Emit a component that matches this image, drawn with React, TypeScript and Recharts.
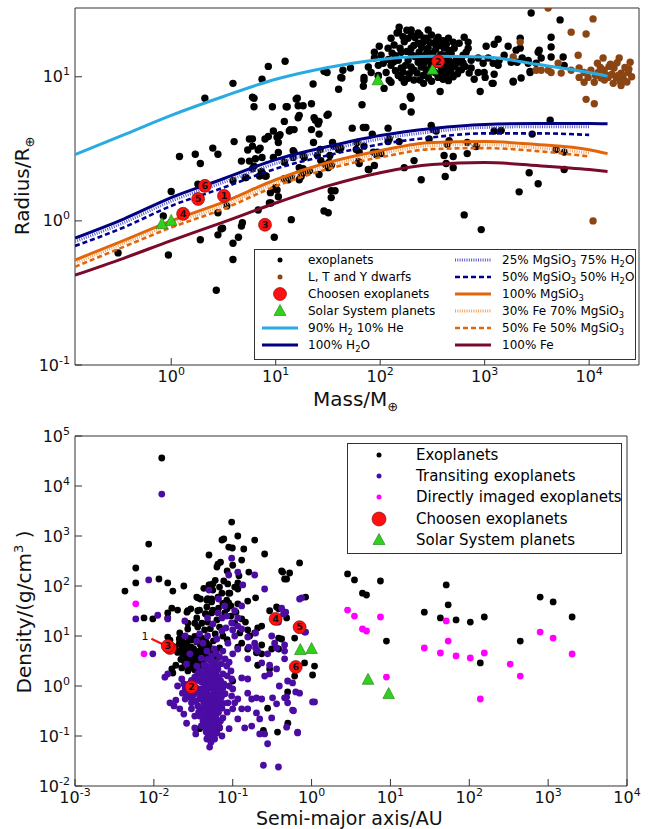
import React from "react";
import { ReferenceDot, ReferenceLine, Scatter, ScatterChart, XAxis, YAxis } from "recharts";

const FONT = "'DejaVu Sans', 'Bitstream Vera Sans', sans-serif";

// ---------- top panel: mass (M_earth) vs radius (R_earth) ----------
const exoplanets: [number, number][] = [
  [8.5, 11.8], [3.9, 9.0], [7.4, 9.6], [12.3, 12.8], [2.1, 7.1], [6.0, 7.2], [6.2, 7.1], [6.2, 6.2], [9.3, 6.2],
  [12.9, 6.2], [22.8, 8.9], [15.7, 7.0], [18.3, 6.3], [31, 10.7], [22, 6.5], [16.8, 5.4], [24, 5.0], [31, 5.4],
  [26, 4.9], [9.5, 4.2], [5.6, 3.7], [6.0, 3.7], [8.5, 3.85], [7.9, 3.7], [6.0, 3.3], [5.4, 3.1], [7.1, 3.2],
  [4.0, 3.55], [2.5, 3.2], [1.2, 2.8], [1.7, 2.9], [2.8, 2.9], [1.9, 2.5], [5.6, 2.6], [6.4, 2.7], [4.7, 2.6],
  [9.5, 2.75], [7.3, 2.2], [6.0, 2.3], [5.1, 2.0], [7.0, 2.05], [7.9, 2.05], [3.9, 1.9], [1.0, 1.6], [1.8, 1.8],
  [3.4, 1.27], [8.7, 1.33], [6.8, 1.19], [0.84, 1.08], [2.8, 1.14], [3.0, 0.88], [4.7, 0.92], [1.9, 0.74],
  [2.8, 0.8], [4.4, 0.77], [3.9, 0.7], [0.31, 0.6], [0.94, 0.58], [3.9, 0.54], [2.7, 0.33], [9.7, 0.77],
  [12.1, 4.9], [11, 3.97], [13.8, 4.3], [15, 4.3], [22, 4.3], [26, 4.0], [10.3, 3.8], [10.6, 3.5], [15, 3.0],
  [14.7, 2.75], [18.3, 2.85], [25, 2.85], [7.4, 2.75], [6.8, 3.1], [5.2, 2.0], [6.2, 2.4], [8.1, 2.05], [9.9, 1.7],
  [12.1, 2.55], [8.9, 1.57], [10.3, 1.64], [30, 2.46], [26, 2.1], [32.5, 2.55], [16.8, 1.93], [13.2, 1.93],
  [10.6, 1.47], [4.8, 0.97], [14.1, 1.02], [3.1, 0.89], [29, 1.17], [31.8, 1.14], [34, 1.45], [34, 1.62],
  [37, 1.62], [21, 2.23], [9, 1.33], [18.3, 2.16], [17.5, 2.03], [12.1, 1.96], [14.1, 2.0], [27, 2.62],
  [31.8, 2.34], [34, 2.42], [33, 2.84], [16.8, 2.34], [14.7, 3.07], [18.7, 2.75], [10.6, 2.98], [26.7, 3.13],
  [43, 9.8], [44, 11.1], [52, 11.5], [40, 8.2], [69, 8.6], [98, 16.3], [109, 8.3], [67, 6.4], [194, 7.3],
  [198, 7.1], [166, 6.2], [198, 5.7], [375, 7.9], [637, 18.8], [12.6, 6.2], [16.1, 7.1], [16.4, 6.3], [31.8, 5.5],
  [23.3, 5.2], [25.5, 4.7], [16.4, 5.2], [13.5, 4.2], [10.8, 3.9], [54, 4.4], [69, 4.45], [73, 4.45], [119, 4.4],
  [119, 3.55], [122, 3.7], [60, 3.5], [70, 3.3], [84, 4.0], [23, 3.5], [35, 3.5], [36, 3.3], [42, 3.2], [63, 3.0],
  [94, 3.0], [102, 2.93], [62, 2.58], [88, 2.42], [211, 2.62], [321, 4.3], [438, 3.4], [457, 3.6], [409, 2.84],
  [500, 2.34], [170, 2.34], [77, 2.27], [18.3, 2.3], [40, 3.13], [59, 3.13], [308, 4.6], [344, 4.2], [294, 3.7],
  [152, 3.55], [92, 2.88], [86, 3.0], [247, 1.93], [419, 2.03], [500, 2.8], [428, 2.5], [681, 2.93], [829, 3.28],
  [1233, 4.2], [1439, 4.24], [2850, 4.0], [4236, 5.0], [4831, 3.13], [5768, 3.0], [5768, 2.27], [2667, 2.16],
  [3251, 1.81], [2138, 1.59], [637, 1.1], [927, 0.87], [63, 2.5], [78, 2.27], [681, 3.5], [2786, 27.7], [5272, 24.8],
  [1033, 16.3], [1233, 16.8], [1346, 18.2], [2188, 18.5], [4325, 18.8], [4325, 16.1], [2188, 15.8], [1679, 16.3],
  [2000, 15.3], [3251, 14.8], [3327, 15.3], [3475, 13.5], [4325, 13.7], [5636, 13.7], [2286, 13.5], [2609, 13.0],
  [2047, 12.6], [2609, 12.4], [3111, 12.4], [5768, 12.0], [2723, 10.7], [2234, 9.8], [1875, 9.2], [1233, 10.4],
  [1011, 9.9], [1206, 9.0], [906, 7.9], [794, 9.6], [867, 10.7], [1346, 12.0], [1875, 9.3], [2723, 10.9],
  [152, 22.1], [145, 20.1], [288, 21.1], [359, 18.8], [231, 20.1], [185, 18.5], [329, 17.1], [500, 17.4],
  [102, 14.1], [88, 13.5], [77, 11.7], [82, 10.7], [70, 9.9], [96, 10.2], [114, 10.7], [122, 9.45], [149, 10.2],
  [170, 9.16], [185, 9.77], [211, 11.1], [258, 10.2], [294, 10.7], [359, 9.9], [409, 10.5], [500, 11.7],
  [557, 12.6], [622, 14.1], [695, 15.8], [119, 15.8], [136, 16.6], [159, 14.8], [198, 15.8], [236, 14.8],
  [288, 15.8], [409, 15.8], [478, 14.5], [149, 13.0], [185, 13.0], [231, 12.6], [288, 13.0], [359, 13.5],
  [448, 13.0], [127, 12.0], [159, 11.5], [198, 11.7], [247, 11.7], [308, 12.0], [383, 11.7], [107, 12.4],
  [96, 12.0], [88, 14.8], [127, 18.5], [198, 21.1], [231, 17.1], [264, 18.5], [511, 15.8], [570, 17.1],
  [695, 17.4], [665, 14.8], [533, 13.0], [622, 12.4], [743, 13.0], [743, 11.5], [867, 13.5], [968, 12.4],
  [1080, 13.5], [1206, 12.4], [711, 10.6], [570, 11.1], [1377, 13.0], [989, 10.7], [1537, 14.1], [1794, 12.6],
  [96, 10.1], [29, 10.9], [42, 9.9], [70, 9.45], [127, 9.16], [428, 10.1], [1180, 9.0],
  [170, 17.5], [210, 16.5], [250, 16], [270, 14], [320, 14.5], [340, 15.5], [390, 16.5], [420, 14], [460, 15.2],
  [140, 14], [175, 12], [215, 13.8], [265, 12.5], [330, 12.8], [395, 12.4], [440, 11.2], [520, 12], [600, 13],
  [650, 11.8], [140, 11], [225, 10.6], [275, 11.2], [330, 10.8], [390, 11], [470, 10.8], [160, 9.8], [240, 9.5],
  [310, 9.3], [150, 20.5], [165, 19], [180, 21], [200, 19.5], [215, 18.7], [240, 19.5], [260, 17.5], [280, 18.5],
  [300, 17.2], [310, 19.5], [345, 17.8], [370, 16.5], [400, 17.8], [430, 16.8], [450, 18.5], [130, 14.6],
  [155, 15.8], [180, 15], [200, 14.2], [230, 14], [260, 13.3], [280, 14.8], [300, 13.2], [350, 12.2], [380, 14.2],
  [410, 12.8], [430, 12.3], [460, 12.8], [480, 12], [120, 13.2], [135, 12.7], [165, 10.8], [190, 10.5], [210, 9.5],
  [260, 9], [290, 9.8], [340, 10.6], [370, 10.3], [400, 9.6], [450, 9.4], [500, 10], [550, 10.5], [600, 11.2],
];

const ltyDwarfs: [number, number][] = [
  [4050, 30], [10900, 25.2], [6730, 20.4], [9350, 19.8], [2188, 17.4], [1875, 13.7], [7850, 14.1], [13600, 13.5],
  [19400, 13.5], [24700, 12.6], [3475, 11.1], [4325, 10.7], [5050, 12.4], [5400, 10.6], [6730, 11.1], [8020, 11.5],
  [8950, 10.7], [10400, 11.1], [8020, 9.9], [8950, 9.16], [9780, 9.9], [12200, 10.7], [13900, 11.1], [15200, 9.9],
  [17300, 11.5], [18100, 9.9], [20200, 10.6], [21600, 9.45], [23600, 10.7], [17000, 9.0], [20200, 8.7],
  [13000, 9.8], [11200, 9.16], [9350, 6.97], [11200, 6.5], [3111, 11.1], [4055, 11.1], [10900, 1.0],
  [16000, 12.2], [22000, 11.6], [14500, 10.3], [19000, 10.2], [25500, 10.0], [12000, 12.4],
  [11500, 10.2], [14000, 9.5], [16500, 10.4], [18500, 12.5], [21000, 10.1], [23000, 9.2], [15500, 11.8],
  [12800, 11.6], [24000, 11.3], [19800, 9.3],
];

const chosenTop: [number, number, number][] = [
  [3.2, 1.49, 1], [359, 12.8, 2], [7.9, 0.94, 3], [1.3, 1.12, 4], [1.81, 1.42, 5], [2.1, 1.75, 6],
];
const solarTop: [number, number][] = [[0.815, 0.95], [1, 1], [95, 9.45], [318, 11.2]];

// model mass-radius relations, read at these masses
const modelMass = [0.12, 0.35, 1, 3.16, 10, 31.6, 100, 316, 1000, 3160, 10000, 15000];
const rH2He = [2.88, 3.95, 5.4, 7.3, 9.6, 11.6, 13.2, 13.9, 13.7, 12.2, 10.7, 10.1];
const rH2O = [0.76, 1.03, 1.45, 1.96, 2.66, 3.28, 3.91, 4.38, 4.67, 4.74, 4.74, 4.72];
const rMg25 = [0.72, 0.97, 1.37, 1.85, 2.5, 3.1, 3.7, 4.15, 4.45, 4.5, 4.5];
const rMg50 = [0.67, 0.9, 1.27, 1.7, 2.3, 2.85, 3.4, 3.8, 4.05, 4.05, 3.95];
const rMgSiO3 = [0.535, 0.73, 1.0, 1.35, 1.93, 2.54, 3.07, 3.5, 3.55, 3.39, 3.12, 2.93];
const rFe30 = [0.51, 0.7, 0.95, 1.28, 1.83, 2.41, 2.92, 3.33, 3.38, 3.22, 2.96];
const rFe50 = [0.48, 0.66, 0.9, 1.21, 1.74, 2.29, 2.76, 3.15, 3.2, 3.05, 2.8];
const rFe = [0.42, 0.55, 0.73, 0.98, 1.33, 1.75, 2.16, 2.46, 2.54, 2.42, 2.27, 2.2];

// ---------- bottom panel: semi-major axis (AU) vs density (g/cm3) ----------
const exoDensity: [number, number][] = [
  [2.86, 174], [3.5, 132], [4.42, 72], [4.97, 66], [7.47, 126], [8.9, 7.9], [26.9, 30], [43, 23], [51, 105],
  [54, 42], [68, 21], [103, 19], [155, 24], [138, 2.9], [443, 7.9], [792, 60], [1157, 48], [2014, 24],
  [0.0126, 36300], [0.0086, 690], [0.0059, 229], [0.0059, 115], [0.0043, 79], [0.0116, 138], [0.015, 115],
  [0.0174, 79], [0.024, 100], [0.0075, 23], [0.0097, 22], [0.0169, 36], [0.02, 33], [0.0269, 32], [0.0294, 35],
  [0.015, 23], [0.015, 9.5], [0.021, 8.7], [0.019, 2.6], [0.0169, 2.2], [0.0269, 13.8], [0.036, 58], [0.048, 56],
  [0.054, 48], [0.05, 417], [0.065, 275], [0.063, 240], [0.077, 870], [0.073, 832], [0.089, 600], [0.099, 575],
  [0.116, 1000], [0.097, 1900], [0.138, 550], [0.19, 830], [0.254, 437], [0.05, 105], [0.056, 110], [0.077, 126],
  [0.0865, 110], [0.106, 95], [0.116, 87], [0.089, 72], [0.155, 50], [0.195, 58], [0.116, 44], [0.089, 46],
  [0.066, 36], [0.054, 55], [0.047, 52], [0.039, 55], [0.036, 32], [0.0455, 27.5], [0.054, 29], [0.033, 18],
  [0.0405, 18], [0.417, 200], [0.455, 138], [0.705, 290], [0.84, 60], [0.36, 38], [0.294, 32], [0.483, 23],
  [0.233, 15.8], [0.382, 9.1], [0.19, 11.5], [0.164, 10], [0.417, 8.7], [0.382, 5.5], [0.312, 5.5], [0.294, 2.2],
  [0.2, 4.6], [0.233, 4.4], [0.155, 5.5], [0.13, 7.2], [0.497, 0.76], [0.61, 1.58], [1.09, 2.5], [1.03, 1.66],
  [0.815, 2.9], [0.37, 0.12], [0.5, 0.18], [0.245, 0.13], [0.277, 0.36], [0.1, 1.26], [0.068, 0.145],
  [0.054, 0.14], [0.038, 0.14], [0.0213, 5.0], [0.233, 6.6], [0.207, 2.6], [0.207, 14.5], [0.382, 35],
  [0.116, 115], [0.155, 13.2], [0.61, 9.1], [0.527, 182], [0.43, 190], [0.483, 138],
  [0.0226, 6.0], [0.0263, 7.2], [0.0303, 8.3], [0.035, 7.6], [0.0405, 9.1], [0.0233, 4.2], [0.0286, 4.6],
  [0.035, 4.8], [0.0418, 5.75], [0.0263, 3.0], [0.033, 3.3], [0.0405, 3.6], [0.0303, 2.3], [0.0382, 2.4],
  [0.0226, 2.3], [0.0174, 1.82], [0.047, 7.2], [0.0542, 5.25], [0.044, 13.2], [0.036, 15.1], [0.048, 19],
  [0.063, 21], [0.068, 15.1], [0.038, 33], [0.047, 38], [0.056, 33], [0.079, 29], [0.084, 52], [0.092, 72],
  [0.073, 72], [0.056, 83], [0.051, 105], [0.035, 60], [0.0263, 30], [0.015, 29], [0.016, 8.3], [0.0185, 6.0],
  [0.0213, 11.5], [0.106, 18.2], [0.123, 11.5], [0.116, 6.0], [0.068, 5.75], [0.063, 3.6], [0.056, 1.82],
  [0.025, 5.2], [0.03, 6.0], [0.032, 4.0], [0.037, 4.3], [0.028, 3.6], [0.025, 2.7], [0.035, 2.8], [0.044, 4.6],
  [0.042, 3.1], [0.029, 5.3], [0.022, 3.4], [0.039, 6.6], [0.033, 9.8], [0.045, 8.5], [0.05, 6.5], [0.057, 8],
  [0.06, 11], [0.052, 14], [0.075, 10], [0.085, 8.5], [0.095, 25], [0.085, 35], [0.11, 30], [0.13, 22],
  [0.145, 19], [0.095, 40], [0.075, 45], [0.065, 60], [0.068, 95], [0.043, 90], [0.06, 130], [0.1, 260],
  [0.085, 200], [0.07, 300], [0.13, 330], [0.12, 160], [0.16, 190], [0.035, 23], [0.027, 18], [0.045, 28],
  [0.027, 4.0], [0.031, 3.5], [0.024, 3.2], [0.028, 2.5], [0.031, 2.7], [0.034, 3.9], [0.038, 5.0], [0.041, 7.0],
  [0.036, 9.5], [0.028, 9.0], [0.023, 8.0], [0.021, 7.0], [0.02, 4.7], [0.025, 6.5], [0.032, 5.5], [0.044, 6.0],
  [0.046, 4.0], [0.039, 3.0], [0.033, 2.1], [0.027, 2.0],
];

const transiting: [number, number][] = [
  [0.0126, 6900], [0.0086, 132], [0.0059, 22], [0.0097, 4.4], [0.0112, 26], [0.015, 22], [0.0247, 20],
  [0.015, 1.74], [0.0138, 1.5], [0.016, 0.46], [0.019, 0.52], [0.024, 0.275], [0.026, 0.18], [0.033, 0.145],
  [0.034, 0.11], [0.051, 0.06], [0.05, 83], [0.066, 55], [0.089, 166], [0.097, 360], [0.116, 190], [0.134, 105],
  [0.19, 166], [0.254, 87], [0.417, 36], [0.705, 55], [0.815, 12], [0.44, 27.5], [0.455, 6.6], [0.36, 5.75],
  [0.277, 4.4], [0.233, 2.9], [0.207, 5.0], [0.155, 3.5], [0.155, 9.5], [0.195, 11.5], [0.195, 5.75],
  [0.294, 2.6], [0.294, 1.74], [0.39, 1.0], [0.455, 0.58], [0.36, 0.44], [0.312, 0.23], [0.254, 0.11],
  [0.277, 0.07], [0.245, 0.026], [0.38, 0.024], [0.59, 0.32], [0.665, 0.115], [0.63, 0.76], [0.705, 0.72],
  [1.03, 0.48], [0.68, 2.5], [0.47, 30], [0.38, 19], [0.312, 10], [0.16, 6.0], [0.2, 0.58], [0.174, 0.55],
  [0.155, 0.72], [0.116, 0.55], [0.1, 0.87], [0.087, 0.46], [0.1, 0.35], [0.116, 0.22], [0.09, 0.14],
  [0.142, 0.145], [0.174, 0.158], [0.22, 0.11], [0.073, 0.1], [0.059, 0.087], [0.063, 0.115], [0.075, 0.91],
  [0.075, 1.74], [0.065, 2.2], [0.084, 2.5], [0.1, 4.4], [0.116, 5.5], [0.087, 7.2], [0.106, 10], [0.13, 13.8],
  [0.097, 18.2], [0.116, 23], [0.106, 32], [0.079, 40], [0.073, 23], [0.073, 12.6], [0.056, 17.4], [0.063, 8.7],
  [0.048, 10], [0.042, 7.2], [0.038, 11], [0.047, 5.0], [0.054, 4.0], [0.04, 3.6], [0.035, 2.5], [0.047, 2.5],
  [0.042, 1.58], [0.054, 1.45], [0.031, 1.15], [0.027, 0.87], [0.023, 0.72], [0.025, 0.55], [0.03, 0.46],
  [0.038, 0.55], [0.047, 0.72], [0.051, 0.46], [0.044, 0.29], [0.054, 0.25], [0.038, 0.25], [0.047, 0.18],
  [0.056, 0.17], [0.048, 0.126], [0.054, 0.091], [0.047, 0.087], [0.063, 0.72], [0.059, 0.46], [0.063, 0.29],
  [0.073, 0.36], [0.075, 0.23], [0.04, 0.87], [0.048, 1.1], [0.056, 1.1], [0.036, 1.74], [0.0226, 1.38],
  [0.02, 1.0], [0.018, 0.4], [0.0213, 0.35], [0.03, 0.35], [0.0286, 4.4], [0.026, 2.75], [0.016, 6.3],
  [0.025, 10], [0.035, 7.9], [0.048, 23], [0.065, 29], [0.084, 25], [0.082, 14.5], [0.1, 13.2], [0.116, 15.8],
  [0.13, 40], [0.19, 7.2], [0.34, 7.2], [0.455, 5.0], [0.497, 1.26], [0.455, 3.5], [0.36, 2.2], [0.574, 1.15],
  [0.497, 0.46], [0.32, 0.58], [0.233, 0.55], [0.254, 1.58], [0.13, 1.45], [0.155, 1.38], [0.097, 1.38],
  [0.077, 1.1], [0.106, 0.46], [0.13, 0.35], [0.155, 0.35], [0.2, 0.29], [0.22, 0.22], [0.097, 0.63],
  [0.073, 0.69], [0.065, 1.1], [0.75, 58], [0.84, 12], [1.09, 0.48], [0.665, 0.12], [0.574, 0.33], [0.483, 0.6],
  [0.483, 0.15],
  [0.045, 0.35], [0.05, 0.3], [0.055, 0.35], [0.06, 0.25], [0.045, 0.22], [0.05, 0.2], [0.055, 0.22],
  [0.06, 0.18], [0.045, 0.15], [0.05, 0.14], [0.052, 0.11], [0.058, 0.13], [0.044, 0.5], [0.05, 0.55],
  [0.056, 0.6], [0.06, 0.4], [0.046, 0.8], [0.052, 0.9], [0.058, 0.8], [0.044, 1.3], [0.05, 1.2], [0.058, 1.6],
  [0.062, 1.9], [0.045, 2.0], [0.05, 1.8], [0.055, 2.4], [0.06, 3.0], [0.04, 1.2], [0.035, 0.9], [0.033, 0.7],
  [0.03, 0.8], [0.027, 0.6], [0.032, 1.0], [0.036, 0.4], [0.041, 0.35], [0.042, 0.2], [0.04, 0.16],
  [0.053, 0.075], [0.049, 0.1], [0.062, 0.6], [0.068, 0.5], [0.066, 0.3], [0.07, 0.2], [0.068, 0.15],
  [0.065, 1.5], [0.07, 1.3], [0.072, 2.8], [0.058, 5.5], [0.062, 4.5], [0.068, 3.8], [0.075, 5], [0.08, 3.5],
  [0.09, 3.0], [0.095, 2.0], [0.085, 1.6], [0.09, 1.0], [0.08, 0.7], [0.085, 0.3],
  [0.042, 0.6], [0.047, 0.6], [0.053, 0.65], [0.048, 0.4], [0.057, 0.45], [0.043, 0.45], [0.039, 0.7],
  [0.044, 0.95], [0.049, 1.5], [0.054, 1.0], [0.059, 1.2], [0.063, 1.0], [0.047, 0.28], [0.052, 0.26],
  [0.057, 0.3], [0.061, 0.32], [0.043, 0.32], [0.046, 0.12], [0.051, 0.17], [0.056, 0.14], [0.058, 0.1],
  [0.062, 0.22], [0.067, 0.4], [0.064, 0.8], [0.041, 1.6], [0.046, 1.7], [0.038, 2.0], [0.043, 2.6],
  [0.052, 2.2], [0.057, 2.0], [0.053, 3.2], [0.048, 3.4], [0.064, 2.6], [0.07, 1.0], [0.072, 0.6], [0.076, 0.45],
  [0.036, 1.3], [0.033, 1.5], [0.03, 1.3], [0.028, 1.1], [0.025, 0.9], [0.024, 1.1], [0.026, 0.75], [0.029, 0.65],
  [0.031, 0.55], [0.034, 0.5], [0.037, 0.3], [0.033, 0.25],
];

const directlyImaged: [number, number][] = [
  [0.0059, 44], [0.0075, 4.4], [2.86, 33], [3.5, 25], [4.42, 13.8], [4.97, 12.6], [7.47, 24], [8.9, 1.51],
  [26.9, 5.75], [43, 4.57], [51, 20], [54, 7.9], [68, 4.0], [103, 3.63], [155, 4.57], [138, 0.55], [330, 2.75],
  [443, 1.58], [792, 12], [1157, 9.1], [2014, 4.37],
];

// planet 1 sits under planet 3 here, so only its arrow label shows
const chosenBottom: [number, number, number][] = [
  [0.016, 5.75, 1], [0.03, 0.95, 2], [0.015, 6.3, 3], [0.35, 22, 4], [0.705, 15, 5], [0.63, 2.4, 6],
];
const solarBottom: [number, number][] = [[0.72, 5.24], [1.0, 5.51], [5.2, 1.33], [9.5, 0.69]];

const massTicks = [1, 10, 100, 1000, 10000];
const radiusTicks = [0.1, 1, 10];
const axisTicks = [0.001, 0.01, 0.1, 1, 10, 100, 1000, 10000];
const densityTicks = [0.01, 0.1, 1, 10, 100, 1000, 10000, 100000];

const pts = (a: number[][]) => a.map(([x, y, id]) => ({ x, y, id }));
const curve = (r: number[]) => r.map((y, i) => ({ x: modelMass[i], y }));

function minorTicks(lo: number, hi: number) {
  const out: number[] = [];
  for (let e = Math.floor(Math.log10(lo)); e <= Math.ceil(Math.log10(hi)); e++) {
    for (let m = 2; m <= 9; m++) {
      const v = m * Math.pow(10, e);
      if (v > lo && v < hi) out.push(v);
    }
  }
  return out;
}

// "10" and its exponent are drawn as two texts (DejaVu advance widths)
const BASE_W = 2 * 0.636 * 16;
const expText = (v: number) => String(Math.round(Math.log10(v)));
const expWidth = (s: string) => s.split("").reduce((w, c) => w + (c === "-" ? 0.361 : 0.636), 0) * 11;
const txt = { fontFamily: FONT, fill: "#111" };

const xLabel = (dy: number) => (p: any) => {
  const e = expText(p.payload.value);
  const x0 = p.x - (BASE_W + expWidth(e)) / 2;
  const y = p.y + dy;
  return (
    <g>
      <text x={x0} y={y} fontSize={16} {...txt}>10</text>
      <text x={x0 + BASE_W} y={y - 7} fontSize={11} {...txt}>{e}</text>
    </g>
  );
};

function YLabel(p: any) {
  const e = expText(p.payload.value);
  const xe = p.x - 12;
  const y = p.y + 5.5;
  return (
    <g>
      <text x={xe - expWidth(e)} y={y} textAnchor="end" fontSize={16} {...txt}>10</text>
      <text x={xe} y={y - 7} textAnchor="end" fontSize={11} {...txt}>{e}</text>
    </g>
  );
}

// all axes are mirrored so ticks point inwards (matplotlib classic style)
function frame(xd: [number, number], yd: [number, number], xMajor: number[], yMajor: number[]) {
  const line = { stroke: "#333", strokeWidth: 1 };
  const base = { type: "number" as const, scale: "log" as const, allowDataOverflow: true, interval: 0 as const, mirror: true, tickMargin: 0 };
  return [
    <XAxis key="b" xAxisId="b" dataKey="x" domain={xd} ticks={xMajor} height={0.01} tickSize={7} tick={xLabel(24)} axisLine={line} tickLine={line} {...base} />,
    <XAxis key="bm" xAxisId="bm" domain={xd} ticks={minorTicks(xd[0], xd[1])} height={0.01} tickSize={3.5} tick={false} axisLine={false} tickLine={line} {...base} />,
    <XAxis key="t" xAxisId="t" orientation="top" domain={xd} ticks={xMajor} height={0.01} tickSize={7} tick={false} axisLine={line} tickLine={line} {...base} />,
    <XAxis key="tm" xAxisId="tm" orientation="top" domain={xd} ticks={minorTicks(xd[0], xd[1])} height={0.01} tickSize={3.5} tick={false} axisLine={false} tickLine={line} {...base} />,
    <YAxis key="l" yAxisId="l" dataKey="y" domain={yd} ticks={yMajor} width={0.01} tickSize={7} tick={YLabel} axisLine={line} tickLine={line} {...base} />,
    <YAxis key="lm" yAxisId="lm" domain={yd} ticks={minorTicks(yd[0], yd[1])} width={0.01} tickSize={3.5} tick={false} axisLine={false} tickLine={line} {...base} />,
    <YAxis key="r" yAxisId="r" orientation="right" domain={yd} ticks={yMajor} width={0.01} tickSize={7} tick={false} axisLine={line} tickLine={line} {...base} />,
    <YAxis key="rm" yAxisId="rm" orientation="right" domain={yd} ticks={minorTicks(yd[0], yd[1])} width={0.01} tickSize={3.5} tick={false} axisLine={false} tickLine={line} {...base} />,
  ];
}

const dot = (r: number, fill: string) => (p: any) => <circle cx={p.cx} cy={p.cy} r={r} fill={fill} />;
const tri = (p: any) => (
  <polygon
    points={`${p.cx},${p.cy - 6.5} ${p.cx - 5.8},${p.cy + 4.5} ${p.cx + 5.8},${p.cy + 4.5}`}
    fill="#2fd11c"
    stroke="#1d7a10"
    strokeWidth={0.6}
  />
);
const numbered = (hidden: number[]) => (p: any) => (
  <g>
    <circle cx={p.cx} cy={p.cy} r={6.5} fill="#ff1010" stroke="#7a0000" strokeWidth={0.6} />
    {!hidden.includes(p.payload.id) && (
      <text x={p.cx} y={p.cy + 3.3} textAnchor="middle" fontSize={9.5} fontWeight="bold" fontFamily={FONT} fill="#111">
        {p.payload.id}
      </text>
    )}
  </g>
);
const noShape = () => <g />;

const ids = { xAxisId: "b", yAxisId: "l", isAnimationActive: false };

function model(r: number[], stroke: string, width: number, dash?: string) {
  return (
    <Scatter
      key={stroke + (dash || "") + r[0]}
      {...ids}
      data={curve(r)}
      line={{ stroke, strokeWidth: width, strokeDasharray: dash }}
      lineType="joint"
      lineJointType="monotoneX"
      shape={noShape}
    />
  );
}

function MassRadius() {
  return (
    <ScatterChart width={654} height={420} margin={{ top: 8, right: 15, bottom: 55, left: 75 }}>
      {frame([0.12, 30000], [0.1, 30], massTicks, radiusTicks)}
      <Scatter {...ids} data={pts(exoplanets)} shape={dot(3.7, "#000")} />
      <Scatter {...ids} data={pts(ltyDwarfs)} shape={dot(3.7, "#8b4513")} />
      {model(rH2He, "#29abe2", 3)}
      {model(rH2O, "#000080", 3)}
      {model(rMg25, "#5858c8", 3, "1 1.3")}
      {model(rMg50, "#000090", 2.6, "5 3")}
      {model(rMgSiO3, "#e2650a", 3)}
      {model(rFe30, "#f4a15a", 3, "1 1.3")}
      {model(rFe50, "#e2650a", 2.6, "5 3")}
      {model(rFe, "#7a0a2a", 3)}
      <Scatter {...ids} data={pts(solarTop)} shape={tri} />
      <Scatter {...ids} data={pts(chosenTop)} shape={numbered([])} />
    </ScatterChart>
  );
}

function AxisDensity() {
  return (
    <ScatterChart width={654} height={409} margin={{ top: 16, right: 27, bottom: 43, left: 75 }}>
      {frame([0.001, 10000], [0.01, 100000], axisTicks, densityTicks)}
      <Scatter {...ids} data={pts(exoDensity)} shape={dot(3.4, "#000")} />
      <Scatter {...ids} data={pts(transiting)} shape={dot(3.4, "#4a0ca3")} />
      <Scatter {...ids} data={pts(directlyImaged)} shape={dot(3.4, "#ff00ff")} />
      <Scatter {...ids} data={pts(chosenBottom)} shape={numbered([1])} />
      <Scatter {...ids} data={pts(solarBottom)} shape={tri} />
      <ReferenceLine
        xAxisId="b"
        yAxisId="l"
        segment={[{ x: 0.0093, y: 8.8 }, { x: 0.0138, y: 6.5 }]}
        stroke="#ff1010"
        strokeWidth={2.2}
      />
      <ReferenceDot
        xAxisId="b"
        yAxisId="l"
        x={0.0077}
        y={9.8}
        shape={(p: any) => (
          <text x={p.cx} y={p.cy + 4} textAnchor="middle" fontSize={11} fontFamily={FONT} fill="#111">1</text>
        )}
      />
    </ScatterChart>
  );
}

const sub = (t: string) => <sub style={{ fontSize: "0.7em", lineHeight: 0 }}>{t}</sub>;

function LegendMarker({ kind, color, dash, width = 3, r = 2.5 }: any) {
  return (
    <svg width={40} height={16} style={{ display: "block" }}>
      {kind === "dot" && <circle cx={20} cy={8} r={r} fill={color} />}
      {kind === "big" && <circle cx={20} cy={8} r={r} fill="#ff1010" stroke="#7a0000" strokeWidth={0.6} />}
      {kind === "tri" && <polygon points="20,1.5 14,12.5 26,12.5" fill="#2fd11c" stroke="#1d7a10" strokeWidth={0.6} />}
      {kind === "line" && <line x1={2} x2={38} y1={8} y2={8} stroke={color} strokeWidth={width} strokeDasharray={dash} />}
    </svg>
  );
}

function TopLegend() {
  const left = [
    [<LegendMarker kind="dot" color="#000" />, "exoplanets"],
    [<LegendMarker kind="dot" color="#8b4513" />, "L, T and Y dwarfs"],
    [<LegendMarker kind="big" r={6.5} />, "Choosen exoplanets"],
    [<LegendMarker kind="tri" />, "Solar System planets"],
    [<LegendMarker kind="line" color="#29abe2" />, <>90% H{sub("2")} 10% He</>],
    [<LegendMarker kind="line" color="#000080" />, <>100% H{sub("2")}O</>],
  ];
  const right = [
    [<LegendMarker kind="line" color="#5858c8" dash="1 1.3" />, <>25% MgSiO{sub("3")} 75% H{sub("2")}O</>],
    [<LegendMarker kind="line" color="#000090" width={2.6} dash="5 3" />, <>50% MgSiO{sub("3")} 50% H{sub("2")}O</>],
    [<LegendMarker kind="line" color="#e2650a" />, <>100% MgSiO{sub("3")}</>],
    [<LegendMarker kind="line" color="#f4a15a" dash="1 1.3" />, <>30% Fe 70% MgSiO{sub("3")}</>],
    [<LegendMarker kind="line" color="#e2650a" width={2.6} dash="5 3" />, <>50% Fe 50% MgSiO{sub("3")}</>],
    [<LegendMarker kind="line" color="#7a0a2a" />, "100% Fe"],
  ];
  const row = (m: any, t: any, i: number, mx: number, tx: number) => (
    <React.Fragment key={`${mx}-${i}`}>
      <div style={{ position: "absolute", left: mx - 20, top: 2 + i * 17 }}>{m}</div>
      <div style={{ position: "absolute", left: tx, top: 2 + i * 17, fontSize: 12, lineHeight: "16px", whiteSpace: "nowrap" }}>{t}</div>
    </React.Fragment>
  );
  return (
    <div style={{ position: "absolute", left: 254, top: 249, width: 380, height: 109, border: "1px solid #333", background: "#fff" }}>
      {left.map(([m, t], i) => row(m, t, i, 25, 53))}
      {right.map(([m, t], i) => row(m, t, i, 218, 247))}
    </div>
  );
}

function BottomLegend() {
  const rows = [
    [<LegendMarker kind="dot" color="#000" />, "Exoplanets"],
    [<LegendMarker kind="dot" color="#4a0ca3" />, "Transiting exoplanets"],
    [<LegendMarker kind="dot" color="#ff00ff" />, "Directly imaged exoplanets"],
    [<LegendMarker kind="big" r={7} />, "Choosen exoplanets"],
    [<LegendMarker kind="tri" />, "Solar System planets"],
  ];
  return (
    <div style={{ position: "absolute", left: 347, top: 443, width: 273, height: 109, border: "1px solid #333", background: "#fff" }}>
      {rows.map(([m, t], i) => (
        <React.Fragment key={i}>
          <div style={{ position: "absolute", left: 11, top: 3 + i * 21.2 }}>{m}</div>
          <div style={{ position: "absolute", left: 68, top: 1 + i * 21.2, fontSize: 15, lineHeight: "20px", whiteSpace: "nowrap" }}>{t}</div>
        </React.Fragment>
      ))}
    </div>
  );
}

const label = { position: "absolute" as const, fontSize: 20, lineHeight: "20px", whiteSpace: "nowrap" as const, color: "#111" };
const rotated = { ...label, transform: "translate(-50%, -50%) rotate(-90deg)" };

export default function App() {
  return (
    <div style={{ position: "relative", width: 654, height: 829, background: "#fff", fontFamily: FONT, overflow: "hidden" }}>
      <style>{"body{margin:0}"}</style>
      <div style={{ position: "absolute", left: 0, top: 0 }}>
        <MassRadius />
      </div>
      <div style={{ position: "absolute", left: 0, top: 420 }}>
        <AxisDensity />
      </div>
      <TopLegend />
      <BottomLegend />
      <div style={{ ...rotated, left: 22, top: 186 }}>
        Radius/R<sub style={{ fontSize: 13, lineHeight: 0 }}>⊕</sub>
      </div>
      <div style={{ ...label, left: 313, top: 389 }}>
        Mass/M<sub style={{ fontSize: 13, lineHeight: 0 }}>⊕</sub>
      </div>
      <div style={{ ...rotated, left: 24, top: 612 }}>
        Density/(g/cm<sup style={{ fontSize: 13, lineHeight: 0 }}>3</sup> )
      </div>
      <div style={{ ...label, fontSize: 19, left: 256, top: 807.9 }}>Semi-major axis/AU</div>
    </div>
  );
}
